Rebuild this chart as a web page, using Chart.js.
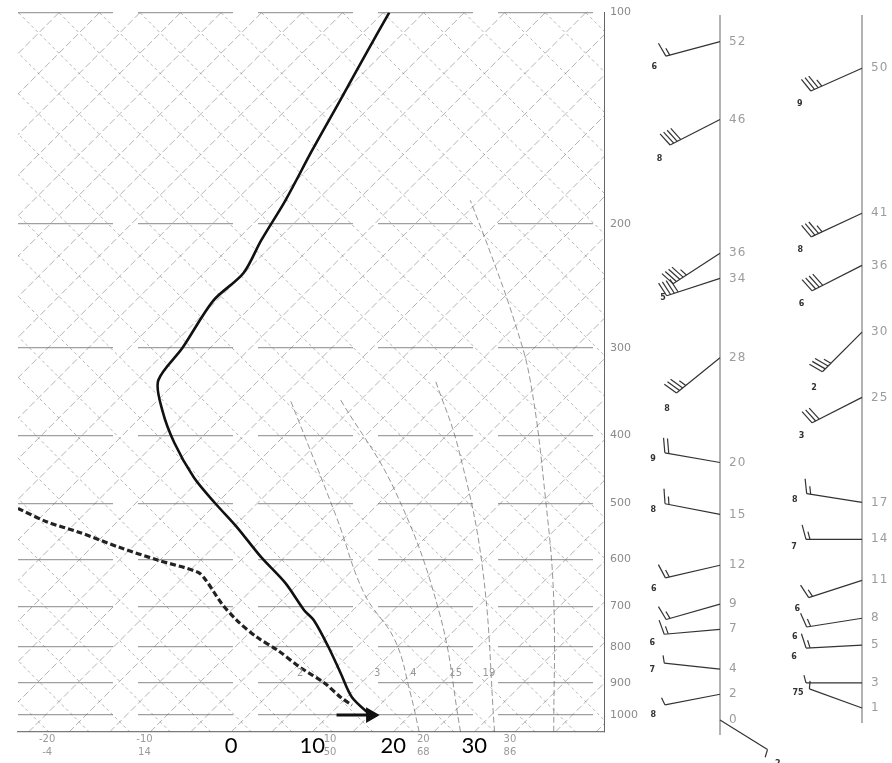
<!DOCTYPE html>
<html>
<head>
<meta charset="utf-8">
<script src="https://cdn.jsdelivr.net/npm/chart.js@4"></script>
<style>
  html, body { margin: 0; padding: 0; background: #fff; }
</style>
</head>
<body>
<canvas id="skewt" width="892" height="763"></canvas>
<script>
// pressure levels (right axis) and temperature labels (bottom)
const pressureTicks = [100, 200, 300, 400, 500, 600, 700, 800, 900, 1000];
const tempTicks = [0, 10, 20, 30];

// temperature sounding (solid line)
const tempPressure = [100, 113, 133, 157, 185, 211, 235, 257, 300, 334, 368, 410, 459, 499, 540, 596, 649, 709, 733, 800, 871, 943, 1000];
const tempValue = [19.5, 16.9, 13.5, 10.0, 6.7, 3.7, 1.5, -2.2, -6.0, -9.0, -8.5, -7.0, -4.6, -2.0, 0.7, 3.7, 6.7, 9.0, 10.2, 12.0, 13.5, 14.9, 17.2];

// dew point (dashed line)
const dewPressure = [508, 531, 549, 577, 602, 626, 643, 693, 733, 775, 808, 855, 900, 943, 968];
const dewValue = [-26.3, -22.7, -18.8, -13.8, -9.0, -4.1, -3.1, -1.2, 0.7, 3.2, 5.7, 8.5, 11.5, 13.5, 14.9];

// surface arrow
const arrowPressure = [1000, 1000];
const arrowValue = [13.0, 17.2];

// curved saturated adiabats
const moistAPressure = [1057, 930, 782, 671, 523, 356];
const moistAValue = [23.2, 22.1, 20.2, 16.4, 13.0, 7.3];
const moistBPressure = [1057, 716, 479, 356];
const moistBValue = [28.3, 25.7, 20.2, 13.5];
const moistCPressure = [1057, 616, 416, 334];
const moistCValue = [32.5, 31.0, 28.0, 25.2];
const moistDPressure = [1057, 686, 494, 334, 274, 220, 185];
const moistDValue = [39.8, 39.8, 38.8, 36.9, 34.9, 32.0, 29.5];

// mixing ratio labels near 870 hPa
const mixLabel = ['2', '3', '4', '15', '19'];
const mixValue = [8.5, 18.0, 22.5, 27.7, 31.8];
const mixPressure = 871;

// original small scale under the plot (deg C / deg F)
const smallScaleC = ['-20', '-10', '10', '20', '30'];
const smallScaleF = ['-4', '14', '50', '68', '86'];
const smallScaleValue = [-22.7, -10.7, 12.2, 23.7, 34.4];

// wind columns: height (thousand ft) at pressure, direction, speed (kt)
const windLeftPressure = [110, 142, 220, 239, 310, 437, 518, 612, 695, 755, 860, 934, 1016];
const windLeftHeight = ['52', '46', '36', '34', '28', '20', '15', '12', '9', '7', '4', '2', '0'];
const windLeftDir = [255, 243, 237, 252, 231, 280, 281, 257, 254, 265, 276, 259, 122];
const windLeftSpeed = [15, 40, 45, 40, 35, 20, 15, 15, 15, 15, 5, 5, 5];
const windLeftMark = ['6', '8', '5', '', '8', '9', '8', '6', '', '6', '7', '8', '2'];

const windRightPressure = [120, 193, 229, 285, 353, 498, 562, 643, 728, 795, 900, 977];
const windRightHeight = ['50', '41', '36', '30', '25', '17', '14', '11', '8', '5', '3', '1'];
const windRightDir = [246, 245, 243, 225, 243, 279, 270, 252, 261, 267, 270, 290];
const windRightSpeed = [35, 35, 40, 35, 30, 15, 15, 15, 15, 15, 5, 5];
const windRightMark = ['9', '8', '6', '2', '3', '8', '7', '6', '6', '6', '', '75'];

const pts = (ps, vs) => ps.map((p, i) => ({ x: vs[i], y: p }));

// skewed isotherms (/) and dry adiabats (\) behind the curves
const skewGrid = {
  id: 'skewGrid',
  beforeDatasetsDraw(chart) {
    const { ctx, chartArea: a, scales: { x } } = chart;
    const rise = a.bottom - a.top;
    ctx.save();
    ctx.beginPath();
    ctx.rect(a.left, a.top, a.right - a.left, a.bottom - a.top);
    ctx.clip();
    ctx.lineWidth = 1;
    ctx.strokeStyle = 'rgba(105,105,105,0.5)';
    ctx.setLineDash([7, 3]);
    for (let t = -120; t <= 50; t += 5) {
      const x0 = x.getPixelForValue(t);
      ctx.beginPath(); ctx.moveTo(x0, a.bottom); ctx.lineTo(x0 + rise, a.top); ctx.stroke();
    }
    ctx.strokeStyle = 'rgba(90,90,90,0.45)';
    ctx.setLineDash([3, 3]);
    for (let t = -25; t <= 140; t += 5) {
      const x0 = x.getPixelForValue(t + 2.5);
      ctx.beginPath(); ctx.moveTo(x0, a.bottom); ctx.lineTo(x0 - rise, a.top); ctx.stroke();
    }
    ctx.restore();
  }
};

function drawBarb(ctx, x, y, dir, speed, len) {
  const rad = dir * Math.PI / 180;
  const ux = Math.sin(rad), uy = -Math.cos(rad);
  const ex = x + ux * len, ey = y + uy * len;
  ctx.beginPath(); ctx.moveTo(x, y); ctx.lineTo(ex, ey); ctx.stroke();
  const th = 75 * Math.PI / 180;
  const fx = ux * Math.cos(th) - uy * Math.sin(th);
  const fy = ux * Math.sin(th) + uy * Math.cos(th);
  const full = Math.floor(speed / 10);
  const half = speed % 10 >= 5;
  let pos = 0;
  for (let i = 0; i < full; i++) {
    const bx = ex - ux * pos, by = ey - uy * pos;
    ctx.beginPath(); ctx.moveTo(bx, by); ctx.lineTo(bx + fx * 15, by + fy * 15); ctx.stroke();
    pos += 4;
  }
  if (half) {
    const bx = ex - ux * pos, by = ey - uy * pos;
    ctx.beginPath(); ctx.moveTo(bx, by); ctx.lineTo(bx + fx * 8, by + fy * 8); ctx.stroke();
  }
  return { ex, ey, ux, uy };
}

// wind columns and small labels outside the plot
const extras = {
  id: 'extras',
  afterDraw(chart) {
    const { ctx, scales: { x, y } } = chart;
    ctx.save();

    // small gray labels
    ctx.fillStyle = '#9a9a9a';
    ctx.font = '10px "DejaVu Sans"';
    ctx.textAlign = 'center';
    ctx.textBaseline = 'middle';
    mixLabel.forEach((t, i) => ctx.fillText(t, x.getPixelForValue(mixValue[i]), y.getPixelForValue(mixPressure)));
    smallScaleC.forEach((t, i) => {
      const px = x.getPixelForValue(smallScaleValue[i]);
      ctx.fillText(t, px, 739);
      ctx.fillText(smallScaleF[i], px, 752);
    });

    const columns = [
      { cx: 720, bottom: 735, p: windLeftPressure, h: windLeftHeight, d: windLeftDir, s: windLeftSpeed, m: windLeftMark },
      { cx: 862, bottom: 723, p: windRightPressure, h: windRightHeight, d: windRightDir, s: windRightSpeed, m: windRightMark }
    ];
    columns.forEach(col => {
      ctx.strokeStyle = '#666';
      ctx.lineWidth = 1;
      ctx.setLineDash([]);
      ctx.beginPath(); ctx.moveTo(col.cx, 15); ctx.lineTo(col.cx, col.bottom); ctx.stroke();
      col.p.forEach((p, i) => {
        const py = y.getPixelForValue(p);
        ctx.strokeStyle = '#333';
        ctx.lineWidth = 1.2;
        const b = drawBarb(ctx, col.cx, py, col.d[i], col.s[i], 56);
        ctx.fillStyle = '#9c9c9c';
        ctx.font = '12px "DejaVu Sans"';
        ctx.letterSpacing = '1px';
        ctx.textAlign = 'left';
        ctx.textBaseline = 'middle';
        ctx.fillText(col.h[i], col.cx + 9, py);
        ctx.letterSpacing = '0px';
        if (col.m[i]) {
          ctx.fillStyle = '#333';
          ctx.font = 'bold 8px "DejaVu Sans"';
          ctx.textAlign = 'center';
          ctx.fillText(col.m[i], b.ex + b.ux * 12, b.ey + b.uy * 12 + 8);
        }
      });
    });
    ctx.restore();
  }
};

const lineSet = (label, data, extra) => Object.assign({
  label, data, showLine: true, pointRadius: 0, fill: false
}, extra);

new Chart(document.getElementById('skewt'), {
  type: 'scatter',
  data: {
    datasets: [
      lineSet('Temperature', pts(tempPressure, tempValue), { borderColor: '#111', borderWidth: 2.6, tension: 0.3, order: 0 }),
      lineSet('Dew point', pts(dewPressure, dewValue), { borderColor: '#222', borderWidth: 3.2, borderDash: [6, 3], tension: 0.3, order: 1 }),
      lineSet('Surface', pts(arrowPressure, arrowValue), {
        borderColor: '#111', backgroundColor: '#111', borderWidth: 3,
        pointRadius: [0, 6], pointStyle: 'triangle', rotation: 90, order: 0
      }),
      lineSet('mA', pts(moistAPressure, moistAValue), { borderColor: 'rgba(80,80,80,0.6)', borderWidth: 1, borderDash: [6, 3], tension: 0.4, order: 5 }),
      lineSet('mB', pts(moistBPressure, moistBValue), { borderColor: 'rgba(80,80,80,0.6)', borderWidth: 1, borderDash: [6, 3], tension: 0.4, order: 5 }),
      lineSet('mC', pts(moistCPressure, moistCValue), { borderColor: 'rgba(80,80,80,0.6)', borderWidth: 1, borderDash: [6, 3], tension: 0.4, order: 5 }),
      lineSet('mD', pts(moistDPressure, moistDValue), { borderColor: 'rgba(80,80,80,0.6)', borderWidth: 1, borderDash: [6, 3], tension: 0.4, order: 5 })
    ]
  },
  options: {
    responsive: false,
    animation: false,
    layout: { padding: { left: 18, right: 248, top: 12, bottom: 0 } },
    plugins: { legend: { display: false }, tooltip: { enabled: false } },
    scales: {
      x: {
        type: 'linear', min: -26.3, max: 46,
        afterBuildTicks: s => { s.ticks = tempTicks.map(v => ({ value: v })); },
        afterFit: s => { s.height = 31; },
        ticks: { color: '#000', font: { family: 'Lato', size: 22 }, padding: 1, autoSkip: false, maxRotation: 0 },
        grid: { display: false, drawTicks: false },
        border: { display: true, color: '#7a7a7a', width: 1.2 }
      },
      y: {
        type: 'logarithmic', position: 'right', reverse: true, min: 100, max: 1057,
        afterBuildTicks: s => { s.ticks = pressureTicks.map(v => ({ value: v })); },
        afterFit: s => { s.width = 40; },
        ticks: { callback: v => String(v), color: '#8a8a8a', font: { family: 'DejaVu Sans', size: 11 }, padding: 6, autoSkip: false },
        grid: { color: '#a0a0a0', lineWidth: 1.2, drawTicks: false },
        border: { display: true, color: '#666', width: 1, dash: [95, 25] }
      }
    }
  },
  plugins: [skewGrid, extras]
});
</script>
</body>
</html>
